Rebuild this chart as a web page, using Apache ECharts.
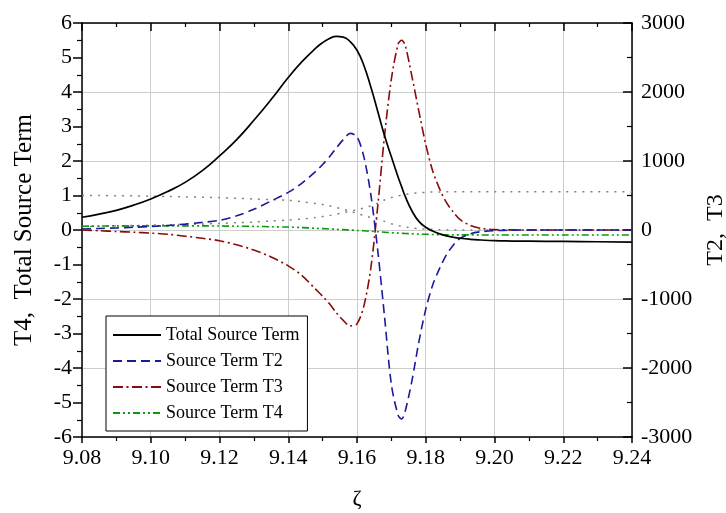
<!DOCTYPE html>
<html><head><meta charset="utf-8">
<script src="https://cdn.jsdelivr.net/npm/echarts@6/dist/echarts.min.js"></script>
<style>html,body{margin:0;padding:0;background:#fff}#c{width:726px;height:513px}</style>
</head><body><div id="c"></div>
<script>
// zeta positions (shared by all series)
const xs = [9.080, 9.085, 9.090, 9.095, 9.100, 9.105, 9.110, 9.115, 9.120, 9.125,
            9.130, 9.135, 9.140, 9.144, 9.148, 9.150, 9.152, 9.154, 9.156, 9.158,
            9.160, 9.162, 9.164, 9.166, 9.168, 9.170, 9.172, 9.173, 9.174, 9.176,
            9.178, 9.180, 9.182, 9.184, 9.186, 9.188, 9.190, 9.193, 9.196, 9.200,
            9.205, 9.210, 9.220, 9.230, 9.240];
// Total Source Term (left axis)
const total = [0.37, 0.46, 0.57, 0.72, 0.90, 1.12, 1.38, 1.72, 2.15, 2.62,
               3.18, 3.78, 4.42, 4.88, 5.27, 5.43, 5.55, 5.61, 5.59, 5.46,
               5.21, 4.77, 4.15, 3.45, 2.74, 2.12, 1.52, 1.25, 0.98, 0.55,
               0.25, 0.08, -0.03, -0.11, -0.17, -0.21, -0.24, -0.27, -0.29, -0.31,
               -0.32, -0.325, -0.33, -0.34, -0.35];
// Source Term T2 (right axis)
const t2 = [15, 22, 30, 40, 50, 65, 85, 110, 140, 205,
            300, 420, 545, 680, 850, 950, 1060, 1190, 1310, 1400,
            1350, 1060, 520, -280, -1250, -2240, -2690, -2740, -2630, -2180,
            -1620, -1150, -800, -560, -360, -220, -120, -55, -25, -10,
            -3, 0, 0, 0, 0];
// Source Term T3 (right axis)
const t3 = [0, -10, -22, -32, -45, -62, -90, -120, -155, -215,
            -290, -390, -520, -660, -860, -960, -1070, -1200, -1310, -1390,
            -1360, -1100, -560, 330, 1360, 2190, 2700, 2750, 2680, 2220,
            1720, 1240, 860, 600, 400, 260, 150, 65, 25, 6,
            2, 0, 0, 0, 0];
// Source Term T4 (left axis)
const t4 = [0.11, 0.115, 0.12, 0.12, 0.12, 0.12, 0.12, 0.12, 0.115, 0.11,
            0.105, 0.095, 0.085, 0.07, 0.05, 0.04, 0.03, 0.02, 0.01, 0.0,
            -0.01, -0.02, -0.035, -0.05, -0.065, -0.08, -0.09, -0.095, -0.10, -0.11,
            -0.12, -0.125, -0.13, -0.135, -0.138, -0.14, -0.14, -0.142, -0.143, -0.144,
            -0.145, -0.145, -0.145, -0.145, -0.145];
// grey dotted reference profiles (left axis, not in legend)
const profA = [1.00, 1.00, 0.99, 0.99, 0.98, 0.97, 0.96, 0.95, 0.94, 0.92,
               0.90, 0.88, 0.86, 0.82, 0.77, 0.74, 0.70, 0.65, 0.60, 0.54,
               0.48, 0.42, 0.36, 0.30, 0.25, 0.18, 0.13, 0.11, 0.09, 0.06,
               0.04, 0.03, 0.02, 0.01, 0.005, 0, 0, 0, 0, 0,
               0, 0, 0, 0, 0];
const profB = [0.10, 0.11, 0.12, 0.13, 0.14, 0.15, 0.16, 0.17, 0.19, 0.21,
               0.23, 0.26, 0.29, 0.32, 0.36, 0.39, 0.42, 0.46, 0.50, 0.54,
               0.59, 0.64, 0.70, 0.78, 0.87, 0.94, 0.99, 1.01, 1.03, 1.06,
               1.08, 1.09, 1.10, 1.10, 1.11, 1.11, 1.11, 1.11, 1.11, 1.11,
               1.11, 1.11, 1.11, 1.11, 1.11];
const legendNames = ['Total Source Term', 'Source Term T2', 'Source Term T3', 'Source Term T4'];

const FONT = "'Liberation Serif', 'Times New Roman', serif";
function pairs(ys) { return xs.map((x, i) => [x, ys[i]]); }

const chart = echarts.init(document.getElementById('c'), null, {renderer: 'canvas'});
const axisLineStyle = {color: '#000', width: 1.5};
const gridColor = '#cdcdcd';
chart.setOption({
  animation: false,
  backgroundColor: '#fff',
  textStyle: {fontFamily: FONT, color: '#000'},
  grid: {left: 82, right: 94, top: 23, bottom: 76, containLabel: false, outerBoundsMode: 'none'},
  legend: {
    data: legendNames,
    orient: 'vertical', left: 106, top: 316,
    padding: [10, 8, 9, 6], itemGap: 8, itemWidth: 48, itemHeight: 14,
    backgroundColor: '#fff', borderColor: '#000', borderWidth: 1, borderRadius: 0,
    selectedMode: false,
    itemStyle: {opacity: 0},
    textStyle: {fontFamily: FONT, fontSize: 18, color: '#000', lineHeight: 14}
  },
  xAxis: [{
    type: 'value', position: 'bottom', min: 9.08, max: 9.24, interval: 0.02,
    axisLine: {show: true, onZero: false, lineStyle: axisLineStyle},
    axisTick: {show: true, inside: false, length: 6, lineStyle: {color: '#000', width: 1.5}},
    minorTick: {show: true, splitNumber: 2, length: 4, lineStyle: {color: '#000', width: 1.2}},
    axisLabel: {fontFamily: FONT, fontSize: 22, color: '#000', margin: 10, showMinLabel: true, showMaxLabel: true,
      formatter: v => v.toFixed(2)},
    splitLine: {show: true, lineStyle: {color: gridColor, width: 1}},
    name: 'ζ', nameLocation: 'middle', nameGap: 51,
    nameTextStyle: {fontFamily: FONT, fontSize: 22, color: '#000'}
  }, {
    type: 'value', position: 'top', min: 9.08, max: 9.24, interval: 0.02,
    axisLine: {show: true, onZero: false, lineStyle: axisLineStyle},
    axisTick: {show: true, inside: true, length: 8, lineStyle: {color: '#000', width: 1.5}},
    minorTick: {show: true, splitNumber: 2, length: 4, lineStyle: {color: '#000', width: 1.2}},
    axisLabel: {show: false},
    splitLine: {show: false}
  }],
  yAxis: [{
    type: 'value', position: 'left', min: -6, max: 6, interval: 1,
    axisLine: {show: true, onZero: false, lineStyle: axisLineStyle},
    axisTick: {show: true, inside: false, length: 9, lineStyle: {color: '#000', width: 1.5}},
    minorTick: {show: true, splitNumber: 2, length: 5, lineStyle: {color: '#000', width: 1.2}},
    axisLabel: {fontFamily: FONT, fontSize: 22, color: '#000', margin: 10, formatter: v => String(v)},
    splitLine: {show: false},
    name: 'T4,  Total Source Term', nameLocation: 'middle', nameGap: 45,
    nameTextStyle: {fontFamily: FONT, fontSize: 25, color: '#000'}
  }, {
    type: 'value', position: 'right', min: -3000, max: 3000, interval: 1000,
    axisLine: {show: true, onZero: false, lineStyle: axisLineStyle},
    axisTick: {show: true, inside: true, length: 9, lineStyle: {color: '#000', width: 1.5}},
    minorTick: {show: true, splitNumber: 2, length: 5, lineStyle: {color: '#000', width: 1.2}},
    axisLabel: {fontFamily: FONT, fontSize: 22, color: '#000', margin: 9, formatter: v => String(v)},
    splitLine: {show: true, lineStyle: {color: gridColor, width: 1}},
    name: 'T2,  T3', nameLocation: 'middle', nameGap: 63,
    nameTextStyle: {fontFamily: FONT, fontSize: 24, color: '#000'}
  }],
  series: [
    {name: 'profA', type: 'line', yAxisIndex: 0, data: pairs(profA), symbol: 'none', smooth: 0.3,
     lineStyle: {color: '#808080', width: 1.5, type: [2, 6]}, z: 1, silent: true},
    {name: 'profB', type: 'line', yAxisIndex: 0, data: pairs(profB), symbol: 'none', smooth: 0.3,
     lineStyle: {color: '#808080', width: 1.5, type: [2, 6]}, z: 1, silent: true},
    {name: 'Source Term T4', type: 'line', yAxisIndex: 0, data: pairs(t4), symbol: 'none', smooth: 0.3,
     itemStyle: {color: '#0a9a0a'}, lineStyle: {color: '#0a9a0a', width: 1.6, type: [7, 3, 2, 3, 2, 3]}, z: 2},
    {name: 'Source Term T3', type: 'line', yAxisIndex: 1, data: pairs(t3), symbol: 'none', smooth: 0.3,
     itemStyle: {color: '#8b0a0a'}, lineStyle: {color: '#8b0a0a', width: 1.6, type: [10, 3.5, 2, 3.5]}, z: 3},
    {name: 'Source Term T2', type: 'line', yAxisIndex: 1, data: pairs(t2), symbol: 'none', smooth: 0.3,
     itemStyle: {color: '#1a1a9a'}, lineStyle: {color: '#1a1a9a', width: 1.6, type: [9, 5]}, z: 4},
    {name: 'Total Source Term', type: 'line', yAxisIndex: 0, data: pairs(total), symbol: 'none', smooth: 0.5,
     itemStyle: {color: '#000'}, lineStyle: {color: '#000', width: 1.7, type: 'solid'}, z: 5}
  ]
});
</script>
</body></html>
